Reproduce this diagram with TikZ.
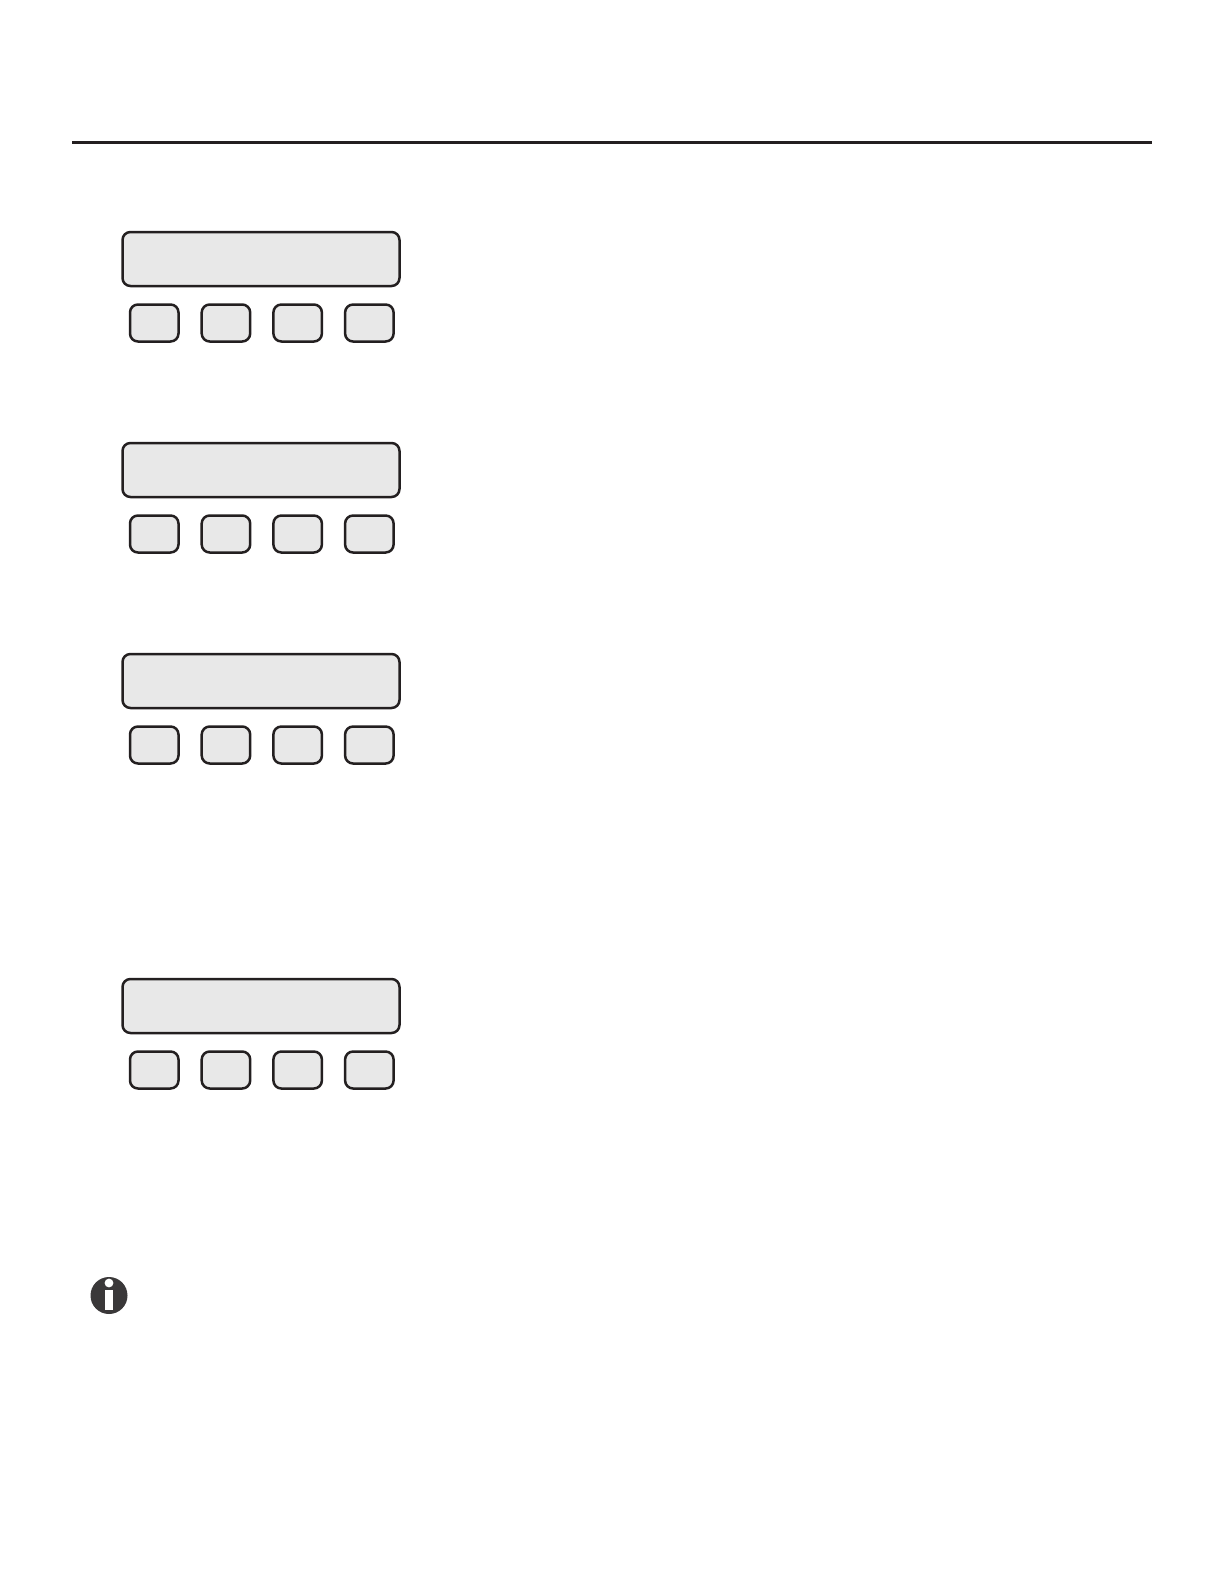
\documentclass[tikz,border=0pt]{standalone}
\usepackage{xcolor}
\usepackage{tikz}
\usetikzlibrary{positioning}
\definecolor{keyline}{HTML}{231F20}
\definecolor{keyfill}{HTML}{E8E8E8}
\definecolor{infofill}{HTML}{3A3839}

\begin{document}
\begin{tikzpicture}[
    x=1pt,
    y=1pt,
    screen/.style={
        rectangle,
        draw=keyline,
        fill=keyfill,
        line width=1.25pt,
        rounded corners=4pt,
        outer sep=0pt,
        inner sep=0pt,
        minimum width=138.5pt,
        minimum height=27pt
      },
    softkey/.style={
        rectangle,
        draw=keyline,
        fill=keyfill,
        line width=1.25pt,
        rounded corners=4pt,
        outer sep=0pt,
        inner sep=0pt,
        minimum width=24.25pt,
        minimum height=18.5pt
      },
    infodot/.style={circle,fill=infofill,inner sep=0pt,outer sep=0pt,minimum size=18.5pt},
    infomark/.style={fill=white,inner sep=0pt,outer sep=0pt}
    ]

    \useasboundingbox[fill=white] (0,0) rectangle (612,-792);

    \coordinate (ruleleft) at (36,-71.25);
    \coordinate (ruleright) at (576,-71.25);
    \draw[keyline,line width=1.5pt] (ruleleft)--(ruleright);

    \node[screen] (screenA) at (130.5,-129.5) {};
    \node[softkey,below right=9.25pt and 3.75pt of screenA.south west] (keyA1) {};
    \node[softkey,right=11.6pt of keyA1] (keyA2) {};
    \node[softkey,right=11.6pt of keyA2] (keyA3) {};
    \node[softkey,right=11.6pt of keyA3] (keyA4) {};

    \node[screen] (screenB) at (130.5,-235) {};
    \node[softkey,below right=9.25pt and 3.75pt of screenB.south west] (keyB1) {};
    \node[softkey,right=11.6pt of keyB1] (keyB2) {};
    \node[softkey,right=11.6pt of keyB2] (keyB3) {};
    \node[softkey,right=11.6pt of keyB3] (keyB4) {};

    \node[screen] (screenC) at (130.5,-340.5) {};
    \node[softkey,below right=9.25pt and 3.75pt of screenC.south west] (keyC1) {};
    \node[softkey,right=11.6pt of keyC1] (keyC2) {};
    \node[softkey,right=11.6pt of keyC2] (keyC3) {};
    \node[softkey,right=11.6pt of keyC3] (keyC4) {};

    \node[screen] (screenD) at (130.5,-503) {};
    \node[softkey,below right=9.25pt and 3.75pt of screenD.south west] (keyD1) {};
    \node[softkey,right=11.6pt of keyD1] (keyD2) {};
    \node[softkey,right=11.6pt of keyD2] (keyD3) {};
    \node[softkey,right=11.6pt of keyD3] (keyD4) {};

    \node[infodot] (info) at (54.5,-647.75) {};
    \node[infomark,circle,minimum size=4.4pt] (infohead) at (54.5,-641.5) {};
    \node[infomark,rectangle,minimum width=4.3pt,minimum height=10pt,below=1.3pt of infohead] (infostem) {};

  \end{tikzpicture}
\end{document}
